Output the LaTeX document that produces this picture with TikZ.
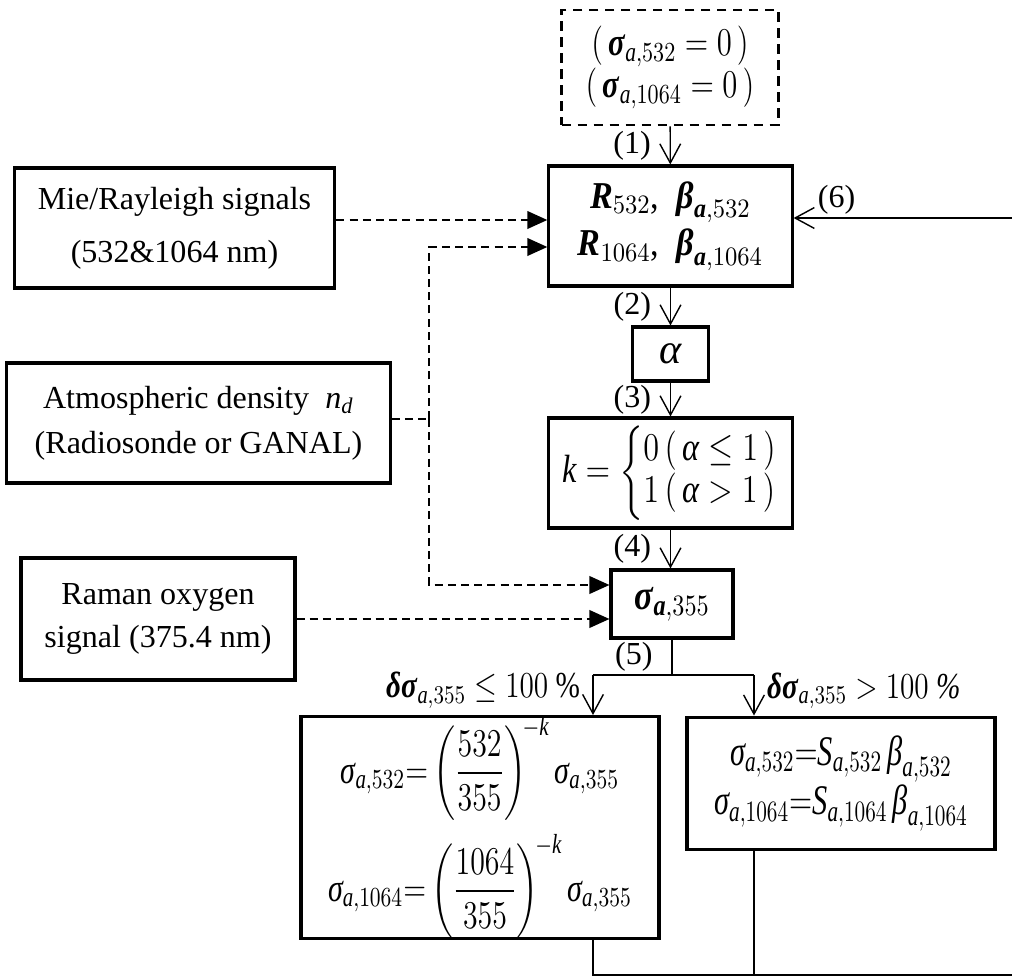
\documentclass[tikz,border=0pt]{standalone}
\usepackage{fix-cm}
\usepackage{amsmath,amssymb}
\usepackage{graphicx}
\usepackage{fontspec}
\setmainfont{Liberation Serif}
\usetikzlibrary{arrows.meta}
% digits, = and parentheses in formulas from the text font
\DeclareSymbolFont{tdig}{TU}{\rmdefault}{m}{n}
\DeclareMathSymbol{0}{\mathalpha}{tdig}{"30}
\DeclareMathSymbol{1}{\mathalpha}{tdig}{"31}
\DeclareMathSymbol{2}{\mathalpha}{tdig}{"32}
\DeclareMathSymbol{3}{\mathalpha}{tdig}{"33}
\DeclareMathSymbol{4}{\mathalpha}{tdig}{"34}
\DeclareMathSymbol{5}{\mathalpha}{tdig}{"35}
\DeclareMathSymbol{6}{\mathalpha}{tdig}{"36}
\DeclareMathSymbol{7}{\mathalpha}{tdig}{"37}
\DeclareMathSymbol{8}{\mathalpha}{tdig}{"38}
\DeclareMathSymbol{9}{\mathalpha}{tdig}{"39}
\DeclareMathSymbol{=}{\mathrel}{tdig}{"3D}
\DeclareMathSymbol{(}{\mathopen}{tdig}{"28}
\DeclareMathSymbol{)}{\mathclose}{tdig}{"29}
% greek letters taken from the text font
\newcommand{\gsig}{\textit{σ}}
\newcommand{\bsig}{\textbf{\textit{σ}}}
\newcommand{\gbet}{\textit{β}}
\newcommand{\bbet}{\textbf{\textit{β}}}
\newcommand{\galp}{\textit{α}}
\newcommand{\bdel}{\textbf{\textit{δ}}}
\newcommand{\ita}{\textit{a}}
\newcommand{\bfa}{\textbf{\textit{a}}}
\newcommand{\cnd}[2][0.82]{\scalebox{#1}[1]{#2}}
\tikzset{
  fb/.style={draw, line width=1.1pt, align=center, inner sep=2pt,
             font=\fontsize{11.4}{16}\selectfont},
  fbdash/.style={fb, line width=0.9pt, dash pattern=on 1.2mm off 0.8mm},
  ar/.style={-{Straight Barb[length=2.4mm,width=2.6mm]}, line width=0.5pt},
  dln/.style={line width=0.7pt, dash pattern=on 1mm off 0.65mm},
  dar/.style={dln, -{Triangle[length=2.5mm,width=2.2mm]}},
  lbl/.style={font=\fontsize{11.4}{13}\selectfont, inner sep=1pt},
}

\begin{document}
\begin{tikzpicture}[x=0.125mm, y=-0.125mm]
  \useasboundingbox (0,0) rectangle (1012,976);

  % main column
  \node[fbdash, minimum width=27.1mm, minimum height=14.4mm,
        font=\fontsize{14}{14.8}\selectfont] (init) at (670,67.5)
       {\cnd[0.78]{$(\,\bsig_{\ita,532}=0\,)$}\\\cnd[0.78]{$(\,\bsig_{\ita,1064}=0\,)$}};
  \node[fb, minimum width=30.4mm, minimum height=15mm,
        font=\fontsize{13.5}{17}\selectfont] (rbox) at (670.5,226)
       {\cnd[0.9]{$\textbf{\textit{R}}_{532}$,\enspace$\bbet_{\bfa,532}$}\\
        \cnd[0.9]{$\textbf{\textit{R}}_{1064}$,\enspace$\bbet_{\bfa,1064}$}};
  \node[fb, minimum width=9.4mm, minimum height=6.75mm,
        font=\fontsize{15}{16}\selectfont] (alpha) at (670.5,354) {$\galp$};
  \node[fb, minimum width=30.4mm, minimum height=13.75mm, inner sep=0.5pt,
        font=\fontsize{14}{15}\selectfont] (kbox) at (670.5,473)
       {\cnd{$\textit{k}=\left\{\begin{array}{@{}l@{}}0\,(\,\galp\le1\,)\\1\,(\,\galp>1\,)\end{array}\right.$}};
  \node[fb, minimum width=15.25mm, minimum height=8.5mm,
        font=\fontsize{15}{16}\selectfont] (sig) at (672,604) {\cnd{$\bsig_{\bfa,355}$}};

  % inputs
  \node[fb, minimum width=40.1mm, minimum height=15mm] (mie) at (174.5,228)
       {Mie/Rayleigh signals\\[3pt](532\&1064 nm)};
  \node[fb, minimum width=47.9mm, minimum height=15mm] (atm) at (198.5,423)
       {Atmospheric density\enspace$\textit{n}_{\textit{d}}$\\(Radiosonde or GANAL)};
  \node[fb, minimum width=34.25mm, minimum height=15.25mm,
        font=\fontsize{11.4}{15.3}\selectfont] (raman) at (158,619)
       {Raman oxygen\\signal (375.4 nm)};

  % results
  \node[fb, minimum width=44.75mm, minimum height=27.6mm, inner sep=0pt,
        font=\fontsize{14}{15}\selectfont] (lowbox) at (480,827.5)
       {\cnd[0.76]{$\gsig_{\ita,532}{=}\left(\dfrac{532}{355}\right)^{\!-\textit{k}}\gsig_{\ita,355}$}\\[4pt]
        \cnd[0.76]{$\gsig_{\ita,1064}{=}\left(\dfrac{1064}{355}\right)^{\!-\textit{k}}\gsig_{\ita,355}$}};
  \node[fb, minimum width=38.5mm, minimum height=16.6mm,
        font=\fontsize{15}{17.5}\selectfont] (highbox) at (841,783.5)
       {\cnd[0.72]{$\gsig_{\ita,532}{=}\textit{S}_{\ita,532}\,\gbet_{\ita,532}$}\\
        \cnd[0.72]{$\gsig_{\ita,1064}{=}\textit{S}_{\ita,1064}\,\gbet_{\ita,1064}$}};

  \coordinate (tap) at (429,419);
  \coordinate (fl) at (593,675);
  \coordinate (fr) at (754,675);
  \coordinate (bl) at (593,975);
  \coordinate (ret) at (1014,218);

  % steps
  \draw[ar] (init) -- (rbox) node[lbl, midway, left=2mm] {(1)};
  \draw[ar] (rbox) -- (alpha) node[lbl, midway, left=2mm] {(2)};
  \draw[ar] (alpha) -- (kbox) node[lbl, midway, left=2mm] {(3)};
  \draw[ar] (kbox) -- (kbox |- sig.north) node[lbl, midway, left=2mm] {(4)};
  \draw[line width=0.5pt] (sig) -- (sig |- fl) node[lbl, midway, left=2mm] {(5)};
  \draw[line width=0.5pt] (fl) -- (fr);
  \draw[ar] (fl) -- (fl |- lowbox.north)
    node[lbl, pos=1, anchor=south east, xshift=-1.2mm, yshift=0.4mm,
         font=\fontsize{13}{14}\selectfont]
    {\cnd[0.8]{$\bdel\bsig_{\ita,355}\le 100$ \%}};
  \draw[ar] (fr) -- (fr |- highbox.north)
    node[lbl, pos=1, anchor=south west, xshift=1.2mm, yshift=0.4mm,
         font=\fontsize{13}{14}\selectfont]
    {\cnd[0.8]{$\bdel\bsig_{\ita,355}>100$ \textit{\%}}};

  % feedback
  \draw[line width=0.5pt] (lowbox.south -| bl) -- (bl) -- (bl -| ret) -- (ret);
  \draw[line width=0.5pt] (highbox.south -| fr) -- (fr |- bl);
  \draw[ar] (ret) -- (rbox.east |- ret)
    node[lbl, pos=1, anchor=south west, xshift=2.6mm] {(6)};

  % data inputs
  \draw[dar] (mie.east |- 0,220) -- (rbox.west |- 0,220);
  \draw[dln] (atm.east |- tap) -- (tap);
  \draw[dar] (tap) |- (rbox.west |- 0,247);
  \draw[dar] (tap) |- (sig.west |- 0,585);
  \draw[dar] (raman.east) -- (sig.west |- raman.east);
\end{tikzpicture}
\end{document}
